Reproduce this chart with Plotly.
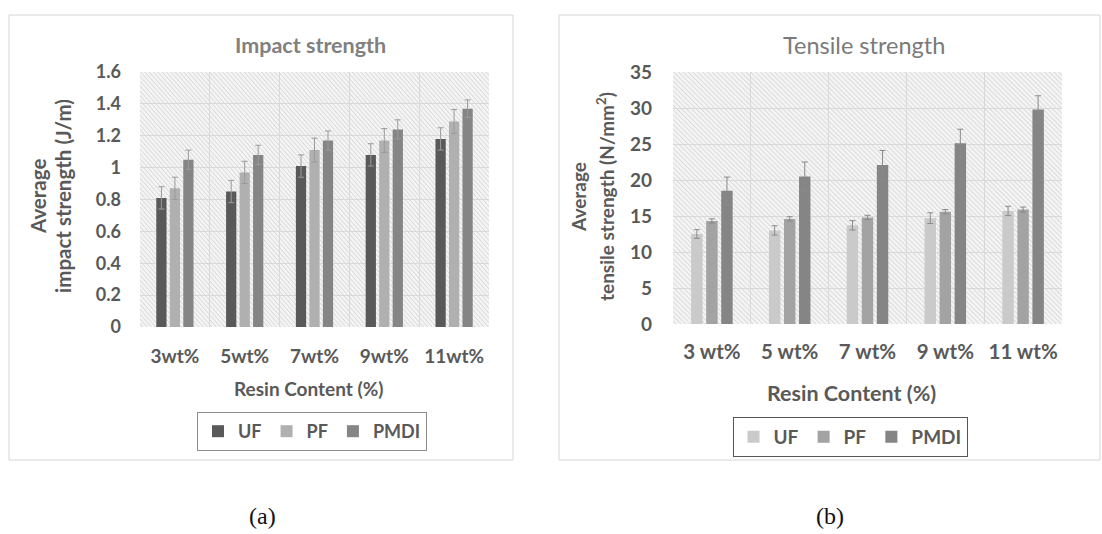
import base64
import plotly.graph_objects as go

# ---------------- data ----------------
impact_categories = ["3wt%", "5wt%", "7wt%", "9wt%", "11wt%"]
impact_uf = [0.81, 0.85, 1.01, 1.08, 1.18]
impact_pf = [0.87, 0.97, 1.11, 1.17, 1.29]
impact_pmdi = [1.05, 1.08, 1.17, 1.24, 1.37]
impact_uf_err = [0.07, 0.07, 0.07, 0.07, 0.07]
impact_pf_err = [0.07, 0.07, 0.075, 0.075, 0.075]
impact_pmdi_err = [0.06, 0.06, 0.06, 0.06, 0.055]

tensile_categories = ["3 wt%", "5 wt%", "7 wt%", "9 wt%", "11 wt%"]
tensile_uf = [12.5, 13.0, 13.7, 14.7, 15.7]
tensile_pf = [14.3, 14.6, 14.8, 15.6, 15.9]
tensile_pmdi = [18.5, 20.5, 22.1, 25.1, 29.8]
tensile_uf_err = [0.6, 0.65, 0.65, 0.75, 0.65]
tensile_pf_err = [0.3, 0.3, 0.3, 0.3, 0.35]
tensile_pmdi_err = [1.9, 2.0, 2.0, 1.95, 1.9]

impact_yticks = [0, 0.2, 0.4, 0.6, 0.8, 1, 1.2, 1.4, 1.6]
tensile_yticks = [0, 5, 10, 15, 20, 25, 30, 35]

W, H = 1102, 534
FONT = "Lato"
TXT = "#595959"


def px(x):
    return x / W


def py(y):
    return 1 - y / H


fig = go.Figure()

left_colors = {"UF": "#595959", "PF": "#b0b0b0", "PMDI": "#858585"}
right_colors = {"UF": "#cacaca", "PF": "#a3a3a3", "PMDI": "#858585"}

for name, vals, errs in [("UF", impact_uf, impact_uf_err),
                         ("PF", impact_pf, impact_pf_err),
                         ("PMDI", impact_pmdi, impact_pmdi_err)]:
    fig.add_trace(go.Bar(
        x=impact_categories, y=vals, name=name,
        marker=dict(color=left_colors[name], line=dict(width=0)),
        error_y=dict(type="data", array=errs, visible=True,
                     color="#9a9a9a", thickness=1, width=3),
        xaxis="x", yaxis="y", legend="legend",
    ))

for name, vals, errs in [("UF", tensile_uf, tensile_uf_err),
                         ("PF", tensile_pf, tensile_pf_err),
                         ("PMDI", tensile_pmdi, tensile_pmdi_err)]:
    fig.add_trace(go.Bar(
        x=tensile_categories, y=vals, name=name,
        marker=dict(color=right_colors[name], line=dict(width=0)),
        error_y=dict(type="data", array=errs, visible=True,
                     color="#8a8a8a", thickness=1, width=3),
        xaxis="x2", yaxis="y2", legend="legend2",
    ))

# hatched background image
svg = ("<svg xmlns='http://www.w3.org/2000/svg' width='400' height='260'>"
       "<defs><pattern id='p' width='3.5' height='3.5' patternUnits='userSpaceOnUse' "
       "patternTransform='rotate(-45)'>"
       "<line x1='0' y1='0' x2='0' y2='3.5' stroke='#cbcbcb' stroke-width='1.2'/>"
       "</pattern></defs>"
       "<rect width='100%' height='100%' fill='#f4f4f4'/>"
       "<rect width='100%' height='100%' fill='url(#p)'/></svg>")
src = "data:image/svg+xml;base64," + base64.b64encode(svg.encode()).decode()

L_dom_x = [px(140), px(489)]
L_dom_y = [py(327), py(72)]
R_dom_x = [px(673), px(1062)]
R_dom_y = [py(324), py(72)]

images = []
for dx, dy in [(L_dom_x, L_dom_y), (R_dom_x, R_dom_y)]:
    images.append(dict(source=src, xref="paper", yref="paper",
                       x=dx[0], y=dy[1], sizex=dx[1] - dx[0], sizey=dy[1] - dy[0],
                       sizing="stretch", layer="below", xanchor="left", yanchor="top"))

grid = "#d9d9d9"


def bold(size):
    return dict(family=FONT, size=size, color=TXT, weight="bold")


fig.update_layout(
    width=W, height=H, autosize=False,
    margin=dict(l=0, r=0, t=0, b=0, pad=0),
    paper_bgcolor="white",
    plot_bgcolor="rgba(0,0,0,0)",
    barmode="group",
    bargap=0.42,
    bargroupgap=0.24,
    images=images,
    xaxis=dict(domain=L_dom_x, anchor="y", type="category", automargin=False,
               tickson="boundaries", showgrid=True, gridcolor=grid, gridwidth=1,
               ticks="", showline=False, tickfont=bold(19), ticklabelstandoff=16),
    yaxis=dict(domain=L_dom_y, anchor="x", range=[0, 1.6], tickvals=impact_yticks,
               automargin=False,
               showgrid=True, gridcolor=grid, gridwidth=1, zeroline=False,
               ticks="", showline=False, tickfont=bold(18), ticklabelstandoff=18),
    xaxis2=dict(domain=R_dom_x, anchor="y2", type="category", automargin=False,
                tickson="boundaries", showgrid=True, gridcolor=grid, gridwidth=1,
                ticks="", showline=False, tickfont=bold(20.5), ticklabelstandoff=13),
    yaxis2=dict(domain=R_dom_y, anchor="x2", range=[0, 35], tickvals=tensile_yticks,
                automargin=False,
                showgrid=True, gridcolor=grid, gridwidth=1, zeroline=False,
                ticks="", showline=False, tickfont=bold(19), ticklabelstandoff=20),
    legend=dict(orientation="h", x=px(312), xanchor="center", y=py(412), yanchor="top",
                bordercolor="#8c8c8c", borderwidth=1, bgcolor="white",
                font=bold(18),
                itemclick=False, tracegroupgap=0, itemwidth=30),
    legend2=dict(orientation="h", x=px(850), xanchor="center", y=py(417), yanchor="top",
                 bordercolor="#555555", borderwidth=1, bgcolor="white",
                 font=bold(19),
                 itemclick=False, tracegroupgap=0, itemwidth=30),
    showlegend=True,
)

# panel borders
for x0, x1 in [(9, 513), (559, 1100)]:
    fig.add_shape(type="rect", xref="paper", yref="paper",
                  x0=px(x0), x1=px(x1), y0=py(460), y1=py(15),
                  line=dict(color="#d6d6d6", width=1), fillcolor="rgba(0,0,0,0)", layer="below")


def note(text, x, y, size, color=TXT, angle=0, family=FONT):
    return dict(text=text, x=px(x), y=py(y), xref="paper", yref="paper",
                xanchor="center", yanchor="middle", textangle=angle,
                showarrow=False, font=dict(family=family, size=size, color=color))


ann = [
    note("<b>Impact strength</b>", 311, 45, 21.5, "#808080"),
    note("Tensile strength", 864, 45, 23.5, "#7a7a7a"),
    note("<b>Resin Content (%)</b>", 309, 388, 19),
    note("<b>Resin Content (%)</b>", 851, 393, 21.5),
    note("<b>Average</b>", 38, 197, 20.5, angle=-90),
    note("<b>impact strength (J/m)</b>", 63, 196, 20.5, angle=-90),
    note("<b>Average</b>", 578, 197, 19, angle=-90),
    note("<b>tensile strength (N/mm<sup>2</sup>)</b>", 605, 197, 19, angle=-90),
    note("(a)", 262, 516, 24, "#111111", family="Liberation Serif"),
    note("(b)", 830, 516, 24, "#111111", family="Liberation Serif"),
]
fig.update_layout(annotations=ann)

fig.write_html("out.html", config={"displayModeBar": False},
               post_script="document.body.style.margin='0';document.body.style.overflow='hidden';")
